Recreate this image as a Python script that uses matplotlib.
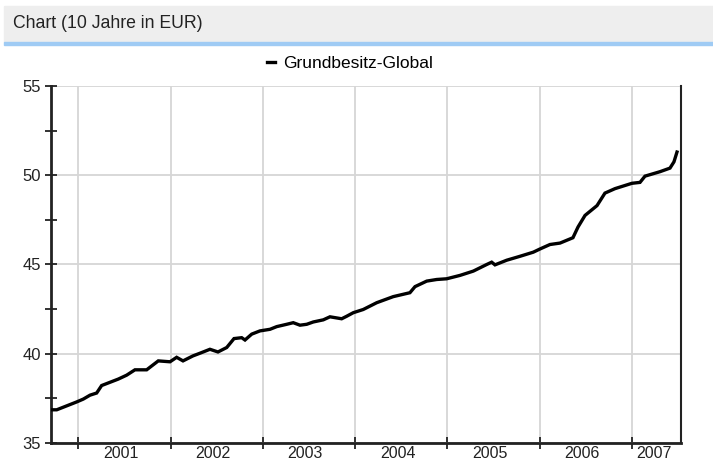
import matplotlib.pyplot as plt
from matplotlib.patches import Rectangle

plt.rcParams['font.family'] = ['Liberation Sans', 'DejaVu Sans']

# price series (decimal year, EUR)
years = [2000.709, 2000.764, 2000.872, 2000.980, 2001.052, 2001.125, 2001.197,
         2001.251, 2001.341, 2001.431, 2001.522, 2001.612, 2001.739, 2001.865,
         2001.992, 2002.064, 2002.133, 2002.241, 2002.317, 2002.425, 2002.512,
         2002.607, 2002.686, 2002.769, 2002.805, 2002.878, 2002.967, 2003.076,
         2003.149, 2003.257, 2003.328, 2003.401, 2003.474, 2003.545, 2003.654,
         2003.726, 2003.853, 2003.907, 2003.979, 2004.087, 2004.233, 2004.412,
         2004.593, 2004.648, 2004.775, 2004.883, 2004.991, 2005.136, 2005.280,
         2005.425, 2005.479, 2005.515, 2005.642, 2005.786, 2005.930, 2006.003,
         2006.111, 2006.220, 2006.360, 2006.415, 2006.491, 2006.621, 2006.707,
         2006.816, 2007.000, 2007.087, 2007.141, 2007.304, 2007.412, 2007.455,
         2007.488]
prices = [36.86, 36.86, 37.08, 37.30, 37.46, 37.68, 37.80,
          38.22, 38.40, 38.58, 38.80, 39.10, 39.10, 39.60,
          39.55, 39.80, 39.60, 39.88, 40.03, 40.25, 40.10,
          40.35, 40.85, 40.90, 40.77, 41.10, 41.28, 41.37,
          41.52, 41.65, 41.74, 41.60, 41.65, 41.78, 41.90,
          42.07, 41.96, 42.10, 42.30, 42.48, 42.86, 43.20,
          43.42, 43.76, 44.07, 44.16, 44.20, 44.39, 44.63,
          45.00, 45.13, 44.98, 45.24, 45.46, 45.69, 45.87,
          46.12, 46.20, 46.50, 47.10, 47.75, 48.30, 49.00,
          49.25, 49.55, 49.60, 49.95, 50.20, 50.40, 50.75,
          51.30]

year_labels = ['2001', '2002', '2003', '2004', '2005', '2006', '2007']
year_starts = [2001, 2002, 2003, 2004, 2005, 2006, 2007]
x_min, x_max = 2000.702, 2007.526

fig = plt.figure(figsize=(7.13, 4.61), dpi=100)

# header bar
fig.patches.append(Rectangle((4 / 713, 1 - 42 / 461), 1, 36 / 461,
                             transform=fig.transFigure, color='#eeeeee', zorder=0))
fig.patches.append(Rectangle((4 / 713, 1 - 45 / 461), 1, 3 / 461,
                             transform=fig.transFigure, color='#9fcbf4', zorder=0))
fig.text(13 / 713, 1 - 23 / 461, 'Chart (10 Jahre in EUR)', fontsize=12.7,
         color='#222222', va='center', ha='left')

ax = fig.add_axes([51 / 713, 18 / 461, 629.5 / 713, 357 / 461])
ax.plot(years, prices, color='black', linewidth=2.4, label='Grundbesitz-Global',
        solid_joinstyle='miter', zorder=3)

ax.set_xlim(x_min, x_max)
ax.set_ylim(35, 55)

# y axis
ax.set_yticks([35, 40, 45, 50, 55])
ax.set_yticks([37.5, 42.5, 47.5, 52.5], minor=True)
ax.tick_params(axis='y', which='both', direction='inout', length=8, width=1.3,
               labelsize=12, pad=3, colors='#222222')

# x axis: ticks at year starts, labels in the middle of each year
ax.set_xticks(year_starts)
ax.set_xticklabels([])
mids = [s + 0.46 for s in year_starts[:-1]] + [(year_starts[-1] + x_max) / 2 - 0.03]
ax.set_xticks(mids, minor=True)
ax.set_xticklabels(year_labels, minor=True)
ax.tick_params(axis='x', which='major', direction='inout', length=8, width=1.3,
               colors='#222222')
ax.tick_params(axis='x', which='minor', length=0, labelsize=11.5, pad=2.5,
               colors='#222222')

ax.grid(True, which='major', color='#d6d6d6', linewidth=1.3, zorder=0)
ax.set_axisbelow(True)

ax.spines['top'].set_visible(False)
for side in ['left', 'bottom']:
    ax.spines[side].set_linewidth(2)
    ax.spines[side].set_color('#222222')
ax.spines['right'].set_linewidth(1.5)
ax.spines['right'].set_color('#222222')

ax.legend(loc='center', bbox_to_anchor=(0.475, 1.063), frameon=False,
          handlelength=0.45, handletextpad=0.5, fontsize=12.5, borderpad=0)

fig.savefig('out.png', dpi=100)
